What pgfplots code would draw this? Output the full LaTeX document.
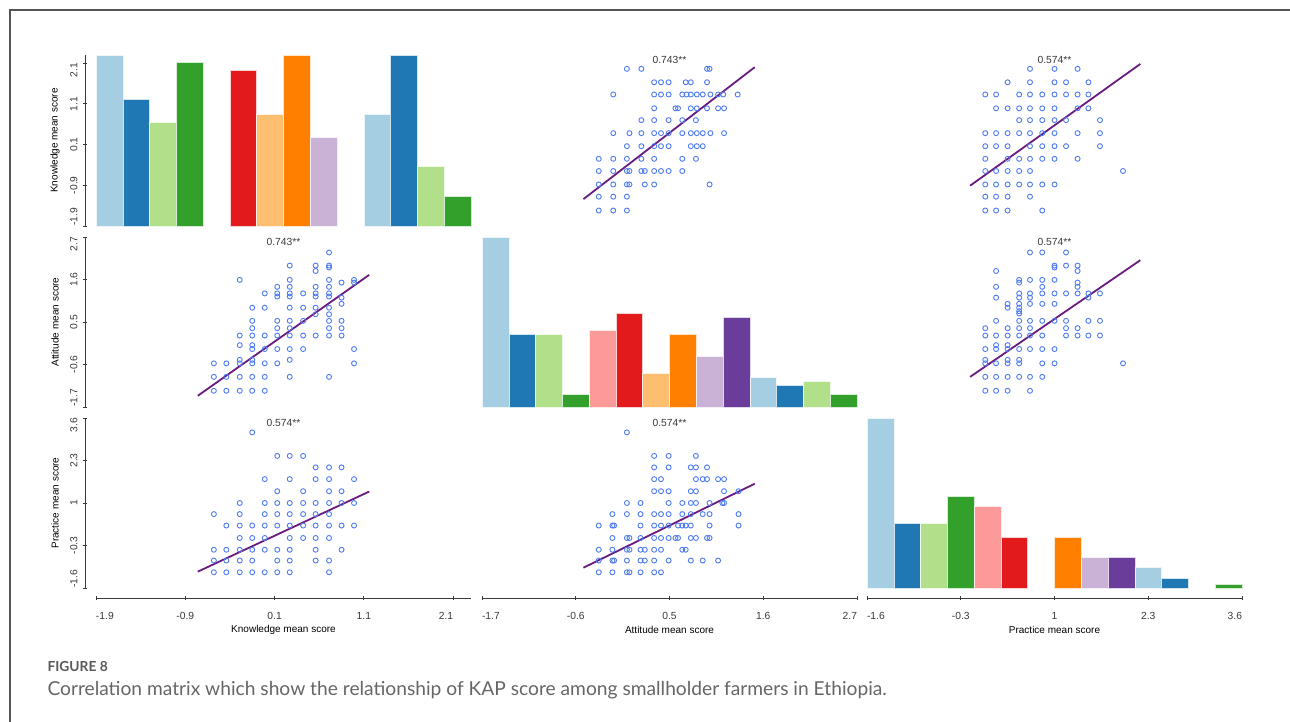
\documentclass[border=0pt]{standalone}
\usepackage{pgfplots}
\pgfplotsset{compat=1.18}
\usepackage{fontspec}
\setmainfont{Liberation Sans}
\newfontfamily\capfont{Lato}

% Paired palette (first ten colours)
\definecolor{pA}{HTML}{A6CEE3}
\definecolor{pB}{HTML}{1F78B4}
\definecolor{pC}{HTML}{B2DF8A}
\definecolor{pD}{HTML}{33A02C}
\definecolor{pE}{HTML}{FB9A99}
\definecolor{pF}{HTML}{E31A1C}
\definecolor{pG}{HTML}{FDBF6F}
\definecolor{pH}{HTML}{FF7F00}
\definecolor{pI}{HTML}{CAB2D6}
\definecolor{pJ}{HTML}{6A3D9A}
\definecolor{ptblue}{HTML}{4F7CF2}
\definecolor{fitpurple}{HTML}{6A1B7E}
\definecolor{axgray}{HTML}{3A3A3A}
\definecolor{framegray}{HTML}{555555}
\definecolor{capgray}{HTML}{5A5A5A}
\definecolor{captext}{HTML}{666666}

\newcommand\lblfont{\fontsize{10.3}{12}\selectfont}

% one histogram bin: colour, left edge, right edge, count
\newcommand\hbin[4]{\addplot[fill=#1, draw=white!80!#1, line width=0.5pt]
  coordinates {(#2,0) (#2,#4) (#3,#4) (#3,0)} -- cycle;}

\tikzset{corr/.style={font=\lblfont, text=axgray, anchor=center, yshift=-5pt}}

\pgfplotsset{
  panel/.style={scale only axis, width=375pt, anchor=south west, clip=false,
    tick align=outside, major tick length=4pt,
    tick style={draw=axgray, line width=0.8pt},
    ticklabel style={font=\lblfont, text=axgray},
    label style={font=\lblfont, text=axgray},
    every axis x label/.style={at={(rel axis cs:0.5,0)}, yshift=-42pt, anchor=center},
    every axis y label/.style={at={(rel axis cs:0,0.5)}, xshift=-41pt, rotate=90, anchor=center},
    yticklabel style={rotate=90, anchor=south},
    xticklabel shift=9pt, yticklabel shift=2pt,
  },
  % plain axis lines, no arrow tips
  plainlines/.style={axis line style={-, draw=axgray, line width=0.8pt},
    every outer x axis line/.append style={-},
    every outer y axis line/.append style={-},
    every inner x axis line/.append style={-},
    every inner y axis line/.append style={-}},
  kx/.style={xmin=-1.9, xmax=2.3},
  ax/.style={xmin=-1.7, xmax=2.7},
  px/.style={xmin=-1.6, xmax=3.6},
  ky/.style={ymin=-1.9, ymax=2.3},
  ay/.style={ymin=-1.7, ymax=2.7},
  py/.style={ymin=-1.6, ymax=3.6},
  kxt/.style={xtick={-1.9,-0.9,0.1,1.1,2.1}, xticklabels={\rlap{-1.9},-0.9,0.1,1.1,\llap{2.1}}},
  axt/.style={xtick={-1.7,-0.6,0.5,1.6,2.7}, xticklabels={\rlap{-1.7},-0.6,0.5,1.6,\llap{2.7}}},
  pxt/.style={xtick={-1.6,-0.3,1,2.3,3.6}, xticklabels={\rlap{-1.6},-0.3,1,2.3,\llap{3.6}}},
  kyt/.style={ytick={-1.9,-0.9,0.1,1.1,2.1}, yticklabels={\rlap{-1.9},-0.9,0.1,1.1,\llap{2.1}}},
  ayt/.style={ytick={-1.7,-0.6,0.5,1.6,2.7}, yticklabels={\rlap{-1.7},-0.6,0.5,1.6,\llap{2.7}}},
  pyt/.style={ytick={-1.6,-0.3,1,2.3,3.6}, yticklabels={\rlap{-1.6},-0.3,1,2.3,\llap{3.6}}},
  scat/.style={only marks, mark=o, mark size=2.5pt,
    mark options={draw=ptblue, line width=0.9pt}},
  fit/.style={no marks, draw=fitpurple, line width=1.8pt},
}

\begin{document}
\begin{tikzpicture}
\useasboundingbox (0,0) rectangle (1290pt,722pt);
\fill[white] (0,0) rectangle (1290pt,722pt);
\draw[framegray, line width=1.2pt] (10pt,0) -- (10pt,712pt) -- (1290pt,712pt);

% ---------- row 1: Knowledge ----------
% histogram of knowledge
\begin{axis}[panel, height=171pt, at={(96pt,496pt)}, hide axis,
  xmin=-1.9, xmax=2.3, ymin=0, ymax=23]
\hbin{pA}{-1.9}{-1.6}{23}
\hbin{pB}{-1.6}{-1.3}{17}
\hbin{pC}{-1.3}{-1.0}{14}
\hbin{pD}{-1.0}{-0.7}{22}
\hbin{pF}{-0.4}{-0.1}{21}
\hbin{pG}{-0.1}{0.2}{15}
\hbin{pH}{0.2}{0.5}{23}
\hbin{pI}{0.5}{0.8}{12}
\hbin{pA}{1.1}{1.4}{15}
\hbin{pB}{1.4}{1.7}{23}
\hbin{pC}{1.7}{2.0}{8}
\hbin{pD}{2.0}{2.3}{4}
\end{axis}
\begin{axis}[panel, height=171pt, at={(96pt,496pt)}, kx, ky, kyt,
  axis x line=none, axis y line=left, axis y line shift=11pt, plainlines,
  ylabel={Knowledge mean score}]
\end{axis}

% knowledge vs attitude
\begin{axis}[panel, height=171pt, at={(482pt,496pt)}, ax, ky, hide axis]
\addplot[scat] table {
x y
0.00 1.96
0.17 1.96
0.94 1.96
0.97 1.96
0.32 1.63
0.40 1.63
0.49 1.63
0.69 1.63
0.75 1.63
0.94 1.63
-0.16 1.33
0.32 1.33
0.40 1.33
0.49 1.33
0.65 1.33
0.70 1.33
0.75 1.33
0.82 1.33
0.89 1.33
0.98 1.33
1.07 1.33
1.13 1.33
1.30 1.33
0.32 0.99
0.57 0.99
0.60 0.99
0.75 0.99
0.82 0.99
0.94 0.99
1.07 0.99
1.14 0.99
0.17 0.70
0.32 0.70
0.49 0.70
0.65 0.70
0.81 0.70
-0.16 0.38
0.03 0.38
0.17 0.38
0.32 0.38
0.40 0.38
0.49 0.38
0.65 0.38
0.75 0.38
0.82 0.38
0.89 0.38
0.98 0.38
1.14 0.38
0.00 0.06
0.17 0.06
0.32 0.06
0.40 0.06
0.49 0.06
0.75 0.06
0.82 0.06
0.89 0.06
-0.33 -0.25
-0.16 -0.25
0.00 -0.25
0.17 -0.25
0.32 -0.25
0.65 -0.25
0.81 -0.25
-0.33 -0.55
-0.16 -0.55
0.00 -0.55
0.03 -0.55
0.17 -0.55
0.21 -0.55
0.32 -0.55
0.40 -0.55
0.49 -0.55
0.65 -0.55
-0.33 -0.88
-0.16 -0.88
0.00 -0.88
0.03 -0.88
0.21 -0.88
0.32 -0.88
0.97 -0.88
-0.33 -1.18
-0.16 -1.18
0.00 -1.18
-0.33 -1.52
-0.16 -1.52
0.00 -1.52
};
\addplot[fit] coordinates {(-0.51,-1.24) (1.50,2.00)};
\node[corr] at (rel axis cs:0.5,1) {0.743**};
\end{axis}

% knowledge vs practice
\begin{axis}[panel, height=171pt, at={(867pt,496pt)}, px, ky, hide axis]
\addplot[scat] table {
x y
0.66 1.96
1.00 1.96
1.32 1.96
0.35 1.63
0.66 1.63
1.00 1.63
1.16 1.63
1.47 1.63
0.04 1.33
0.19 1.33
0.51 1.33
0.66 1.33
0.83 1.33
1.00 1.33
1.16 1.33
1.32 1.33
1.47 1.33
0.19 0.99
0.35 0.99
0.51 0.99
0.66 0.99
0.83 0.99
1.00 0.99
1.32 0.99
1.47 0.99
0.51 0.70
0.66 0.70
0.83 0.70
1.00 0.70
1.16 0.70
1.63 0.70
0.04 0.38
0.19 0.38
0.35 0.38
0.51 0.38
0.66 0.38
0.83 0.38
1.00 0.38
1.32 0.38
1.63 0.38
0.04 0.06
0.19 0.06
0.35 0.06
0.66 0.06
0.83 0.06
1.00 0.06
1.16 0.06
1.63 0.06
0.04 -0.25
0.35 -0.25
0.51 -0.25
0.66 -0.25
0.83 -0.25
1.00 -0.25
1.32 -0.25
0.04 -0.55
0.19 -0.55
0.35 -0.55
0.51 -0.55
0.66 -0.55
1.95 -0.55
0.04 -0.88
0.19 -0.88
0.35 -0.88
0.51 -0.88
0.66 -0.88
0.83 -0.88
1.00 -0.88
0.04 -1.18
0.19 -1.18
0.35 -1.18
0.66 -1.18
0.04 -1.52
0.19 -1.52
0.35 -1.52
0.83 -1.52
};
\addplot[fit] coordinates {(-0.17,-0.91) (2.19,2.08)};
\node[corr] at (rel axis cs:0.5,1) {0.574**};
\end{axis}

% ---------- row 2: Attitude ----------
% attitude vs knowledge
\begin{axis}[panel, height=170pt, at={(96pt,315pt)}, kx, ay, ayt,
  axis x line=none, axis y line=left, axis y line shift=11pt, plainlines,
  ylabel={Attitude mean score}]
\addplot[scat] table {
x y
-0.58 -0.57
-0.58 -0.92
-0.58 -1.28
-0.44 -0.57
-0.44 -0.92
-0.44 -1.28
-0.29 1.59
-0.29 0.15
-0.29 -0.10
-0.29 -0.48
-0.29 -0.57
-0.29 -0.92
-0.29 -1.28
-0.15 0.87
-0.15 0.53
-0.15 0.34
-0.15 0.15
-0.15 -0.10
-0.15 -0.20
-0.15 -0.48
-0.15 -0.57
-0.15 -0.92
-0.15 -1.28
-0.01 1.24
-0.01 0.87
-0.01 0.15
-0.01 -0.20
-0.01 -0.57
-0.01 -0.92
-0.01 -1.28
0.13 1.41
0.13 1.24
0.13 1.16
0.13 0.53
0.13 0.34
0.13 0.15
0.13 -0.20
0.13 -0.57
0.27 1.96
0.27 1.59
0.27 1.41
0.27 1.24
0.27 1.16
0.27 0.87
0.27 0.53
0.27 0.34
0.27 0.15
0.27 -0.20
0.27 -0.48
0.27 -0.92
0.42 1.24
0.42 0.87
0.42 0.53
0.42 0.15
0.42 -0.20
0.56 1.96
0.56 1.82
0.56 1.41
0.56 1.24
0.56 1.16
0.56 0.87
0.56 0.70
0.56 0.15
0.71 2.30
0.71 1.96
0.71 1.91
0.71 1.59
0.71 1.41
0.71 1.24
0.71 1.16
0.71 0.87
0.71 0.70
0.71 0.53
0.71 0.34
0.71 0.15
0.71 -0.92
0.85 1.52
0.85 1.13
0.85 0.97
0.85 0.53
0.85 0.34
0.85 0.15
0.99 1.59
0.99 1.52
0.99 -0.20
0.99 -0.57
};
\addplot[fit] coordinates {(-0.76,-1.41) (1.16,1.72)};
\node[corr] at (rel axis cs:0.5,1) {0.743**};
\end{axis}

% histogram of attitude
\begin{axis}[panel, height=170pt, at={(482pt,315pt)}, hide axis,
  xmin=-1.7, xmax=2.7, ymin=0, ymax=40]
\hbin{pA}{-1.7}{-1.3857}{40}
\hbin{pB}{-1.3857}{-1.0714}{17}
\hbin{pC}{-1.0714}{-0.7571}{17}
\hbin{pD}{-0.7571}{-0.4429}{3}
\hbin{pE}{-0.4429}{-0.1286}{18}
\hbin{pF}{-0.1286}{0.1857}{22}
\hbin{pG}{0.1857}{0.5}{8}
\hbin{pH}{0.5}{0.8143}{17}
\hbin{pI}{0.8143}{1.1286}{12}
\hbin{pJ}{1.1286}{1.4429}{21}
\hbin{pA}{1.4429}{1.7571}{7}
\hbin{pB}{1.7571}{2.0714}{5}
\hbin{pC}{2.0714}{2.3857}{6}
\hbin{pD}{2.3857}{2.7}{3}
\end{axis}

% attitude vs practice
\begin{axis}[panel, height=170pt, at={(867pt,315pt)}, px, ay, hide axis]
\addplot[scat] table {
x y
0.66 2.30
0.83 2.30
1.16 2.30
1.00 1.96
1.16 1.96
1.32 1.96
1.00 1.91
0.19 1.82
1.32 1.82
0.51 1.59
0.66 1.59
0.83 1.59
1.00 1.59
0.51 1.52
1.32 1.52
0.19 1.41
0.83 1.41
1.32 1.41
0.51 1.24
0.66 1.24
0.83 1.24
1.00 1.24
1.16 1.24
1.32 1.24
1.47 1.24
1.63 1.24
0.19 1.13
0.51 1.13
0.66 1.13
1.47 1.13
0.35 0.97
0.51 0.97
0.66 0.97
0.83 0.97
1.00 0.97
0.35 0.87
0.51 0.87
0.51 0.78
0.51 0.72
0.19 0.53
0.51 0.53
0.66 0.53
0.83 0.53
1.00 0.53
1.16 0.53
1.47 0.53
1.63 0.53
0.04 0.34
0.35 0.34
0.51 0.34
0.66 0.34
1.16 0.34
1.32 0.34
0.04 0.15
0.19 0.15
0.35 0.15
0.51 0.15
0.66 0.15
0.83 0.15
1.16 0.15
1.32 0.15
1.47 0.15
1.63 0.15
0.19 -0.10
0.35 -0.10
0.04 -0.20
0.19 -0.20
0.35 -0.20
0.51 -0.20
0.66 -0.20
0.83 -0.20
1.00 -0.20
0.04 -0.48
0.35 -0.48
0.51 -0.48
0.04 -0.57
0.19 -0.57
0.35 -0.57
0.51 -0.57
0.83 -0.57
1.00 -0.57
1.95 -0.57
0.04 -0.92
0.19 -0.92
0.35 -0.92
0.51 -0.92
0.66 -0.92
0.83 -0.92
0.04 -1.28
0.19 -1.28
0.35 -1.28
0.66 -1.28
};
\addplot[fit] coordinates {(-0.17,-0.92) (2.19,2.10)};
\node[corr] at (rel axis cs:0.5,1) {0.574**};
\end{axis}

% ---------- row 3: Practice ----------
% practice vs knowledge
\begin{axis}[panel, height=170pt, at={(96pt,134pt)}, kx, py, kxt, pyt,
  axis x line=bottom, axis y line=left,
  axis x line shift=10pt, axis y line shift=11pt, plainlines,
  xlabel={Knowledge mean score}, ylabel={Practice mean score}]
\addplot[scat] table {
x y
-0.15 3.16
0.13 2.44
0.27 2.44
0.42 2.44
0.56 2.09
0.71 2.09
0.85 2.09
-0.01 1.73
0.27 1.73
0.56 1.73
0.71 1.73
0.99 1.73
0.13 1.36
0.42 1.36
0.71 1.36
0.85 1.36
-0.29 1.00
-0.01 1.00
0.13 1.00
0.27 1.00
0.42 1.00
0.56 1.00
0.71 1.00
0.85 1.00
0.99 1.00
-0.58 0.66
-0.29 0.66
-0.01 0.66
0.13 0.66
0.27 0.66
0.42 0.66
0.56 0.66
0.71 0.66
-0.44 0.31
-0.29 0.31
-0.15 0.31
-0.01 0.31
0.13 0.31
0.27 0.31
0.42 0.31
0.56 0.31
0.71 0.31
0.85 0.31
0.99 0.31
-0.29 -0.07
-0.15 -0.07
-0.01 -0.07
0.27 -0.07
0.42 -0.07
0.56 -0.07
0.71 -0.07
-0.58 -0.43
-0.44 -0.43
-0.29 -0.43
-0.15 -0.43
-0.01 -0.43
0.13 -0.43
0.27 -0.43
0.56 -0.43
0.85 -0.43
-0.58 -0.76
-0.44 -0.76
-0.29 -0.76
-0.15 -0.76
0.13 -0.76
0.27 -0.76
0.56 -0.76
0.71 -0.76
-0.58 -1.12
-0.44 -1.12
-0.29 -1.12
-0.15 -1.12
-0.01 -1.12
0.13 -1.12
0.27 -1.12
0.71 -1.12
};
\addplot[fit] coordinates {(-0.76,-1.10) (1.16,1.35)};
\node[corr] at (rel axis cs:0.5,1) {0.574**};
\end{axis}

% practice vs attitude
\begin{axis}[panel, height=170pt, at={(482pt,134pt)}, ax, py, axt,
  axis x line=bottom, axis y line=none, axis x line shift=10pt, plainlines,
  xlabel={Attitude mean score}]
\addplot[scat] table {
x y
0.00 3.16
0.32 2.44
0.49 2.44
0.81 2.44
0.32 2.09
0.49 2.09
0.75 2.09
0.81 2.09
0.94 2.09
0.32 1.73
0.40 1.73
0.81 1.73
0.89 1.73
0.94 1.73
1.07 1.73
1.14 1.73
0.32 1.36
0.40 1.36
0.49 1.36
0.75 1.36
0.81 1.36
1.14 1.36
1.31 1.36
0.00 1.00
0.16 1.00
0.49 1.00
0.65 1.00
0.75 1.00
0.81 1.00
0.97 1.00
1.12 1.00
1.14 1.00
-0.17 0.66
0.00 0.66
0.16 0.66
0.32 0.66
0.40 0.66
0.49 0.66
0.65 0.66
0.75 0.66
0.89 0.66
0.97 0.66
1.31 0.66
-0.33 0.31
-0.17 0.31
-0.15 0.31
0.16 0.31
0.32 0.31
0.40 0.31
0.49 0.31
0.60 0.31
0.65 0.31
0.69 0.31
0.75 0.31
0.97 0.31
1.31 0.31
-0.17 -0.07
0.00 -0.07
0.03 -0.07
0.16 -0.07
0.32 -0.07
0.40 -0.07
0.49 -0.07
0.57 -0.07
0.60 -0.07
0.75 -0.07
0.81 -0.07
0.94 -0.07
0.97 -0.07
-0.33 -0.43
-0.17 -0.43
0.00 -0.43
0.03 -0.43
0.16 -0.43
0.21 -0.43
0.32 -0.43
0.40 -0.43
0.65 -0.43
0.69 -0.43
-0.33 -0.76
-0.17 -0.76
-0.15 -0.76
0.00 -0.76
0.16 -0.76
0.21 -0.76
0.32 -0.76
0.49 -0.76
0.75 -0.76
0.89 -0.76
1.07 -0.76
-0.33 -1.12
-0.17 -1.12
0.00 -1.12
0.03 -1.12
0.16 -1.12
0.32 -1.12
0.40 -1.12
};
\addplot[fit] coordinates {(-0.51,-0.98) (1.50,1.59)};
\node[corr] at (rel axis cs:0.5,1) {0.574**};
\end{axis}

% histogram of practice
\begin{axis}[panel, height=170pt, at={(867pt,134pt)}, hide axis,
  xmin=-1.6, xmax=3.6, ymin=0, ymax=50]
\hbin{pA}{-1.6}{-1.2286}{50}
\hbin{pB}{-1.2286}{-0.8571}{19}
\hbin{pC}{-0.8571}{-0.4857}{19}
\hbin{pD}{-0.4857}{-0.1143}{27}
\hbin{pE}{-0.1143}{0.2571}{24}
\hbin{pF}{0.2571}{0.6286}{15}
\hbin{pH}{1.0}{1.3714}{15}
\hbin{pI}{1.3714}{1.7429}{9}
\hbin{pJ}{1.7429}{2.1143}{9}
\hbin{pA}{2.1143}{2.4857}{6}
\hbin{pB}{2.4857}{2.8571}{3}
\hbin{pD}{3.2286}{3.6}{1}
\end{axis}
\begin{axis}[panel, height=170pt, at={(867pt,134pt)}, px, py, pxt,
  axis x line=bottom, axis y line=none, axis x line shift=10pt, plainlines,
  xlabel={Practice mean score}]
\end{axis}

% caption
\node[anchor=base west, text=capgray, font=\capfont\bfseries\fontsize{13.8}{16}\selectfont]
  at (44pt,50pt) {FIGURE 8};
\node[anchor=base west, text=captext, font=\capfont\fontsize{19.2}{22}\selectfont]
  at (44pt,26pt) {Correlation matrix which show the relationship of KAP score among smallholder farmers in Ethiopia.};
\end{tikzpicture}
\end{document}
